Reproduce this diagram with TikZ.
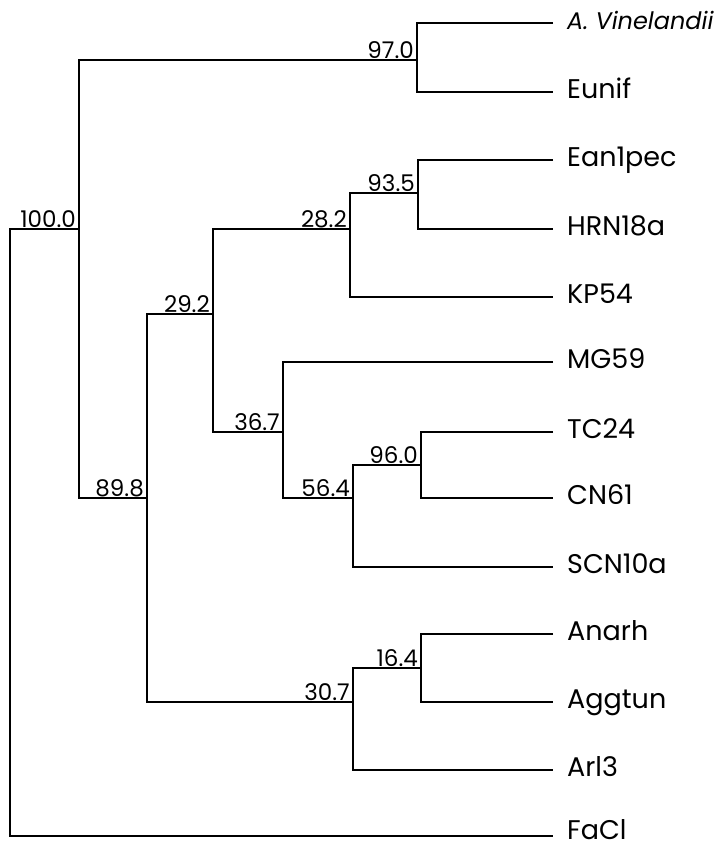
\documentclass[tikz,border=0pt]{standalone}
\usepackage{fontspec}
\setmainfont{Poppins}
\begin{document}
\begin{tikzpicture}[x=1pt,y=-1pt,
  br/.style={line width=1.2pt,line join=miter},
  leaf/.style={anchor=west,inner xsep=14pt,inner ysep=0pt,text height=13pt,text depth=0pt,font=\fontsize{27}{30}\selectfont},
  num/.style={anchor=base east,inner sep=0pt,font=\fontsize{23}{26}\selectfont}]
\useasboundingbox (0,0) rectangle (720,847);
% leaves
\node[leaf] (AV) at (553,23) {\fontsize{24}{28}\selectfont\itshape A. Vinelandii};
\node[leaf] (Eu) at (553,92) {Eunif};
\node[leaf] (Ea) at (553,160) {Ean1pec};
\node[leaf] (HR) at (553,229) {HRN18a};
\node[leaf] (KP) at (553,297) {KP54};
\node[leaf] (MG) at (553,362) {MG59};
\node[leaf] (TC) at (553,432) {TC24};
\node[leaf] (CN) at (553,498) {CN61};
\node[leaf] (SC) at (553,567) {SCN10a};
\node[leaf] (An) at (553,634) {Anarh};
\node[leaf] (Ag) at (553,702) {Aggtun};
\node[leaf] (Ar) at (553,770) {Arl3};
\node[leaf,text height=6pt] (Fa) at (553,836) {FaCl};
% internal junctions
\coordinate (n970) at (417,60);
\coordinate (n935) at (418,193);
\coordinate (n282) at (350,229);
\coordinate (n960) at (421,465);
\coordinate (n564) at (353,498);
\coordinate (n367) at (283,432);
\coordinate (n292) at (213,314);
\coordinate (n164) at (421,668);
\coordinate (n307) at (353,702);
\coordinate (n898) at (147,498);
\coordinate (n1000) at (79,229);
\coordinate (root) at (10,836);
% branches
\draw[br] (AV) -| (n970) |- (Eu);
\draw[br] (Ea) -| (n935) |- (HR);
\draw[br] (n935) -| (n282) |- (KP);
\draw[br] (TC) -| (n960) |- (CN);
\draw[br] (n960) -| (n564) |- (SC);
\draw[br] (MG) -| (n367) |- (n564);
\draw[br] (n282) -| (n292) |- (n367);
\draw[br] (An) -| (n164) |- (Ag);
\draw[br] (n164) -| (n307) |- (Ar);
\draw[br] (n292) -| (n898) |- (n307);
\draw[br] (n970) -| (n1000) |- (n898);
\draw[br] (n1000) -| (root) -- (Fa);
% support values
\node[num] (t970) at ([xshift=-3pt,yshift=2pt]n970) {97.0};
\node[num] (t935) at ([xshift=-3pt,yshift=2pt]n935) {93.5};
\node[num] (t282) at ([xshift=-3pt,yshift=2pt]n282) {28.2};
\node[num] (t960) at ([xshift=-3pt,yshift=2pt]n960) {96.0};
\node[num] (t564) at ([xshift=-3pt,yshift=2pt]n564) {56.4};
\node[num] (t367) at ([xshift=-3pt,yshift=2pt]n367) {36.7};
\node[num] (t292) at ([xshift=-3pt,yshift=2pt]n292) {29.2};
\node[num] (t164) at ([xshift=-3pt,yshift=2pt]n164) {16.4};
\node[num] (t307) at ([xshift=-3pt,yshift=2pt]n307) {30.7};
\node[num] (t898) at ([xshift=-3pt,yshift=2pt]n898) {89.8};
\node[num] (t1000) at ([xshift=-3pt,yshift=2pt]n1000) {100.0};
\end{tikzpicture}
\end{document}
